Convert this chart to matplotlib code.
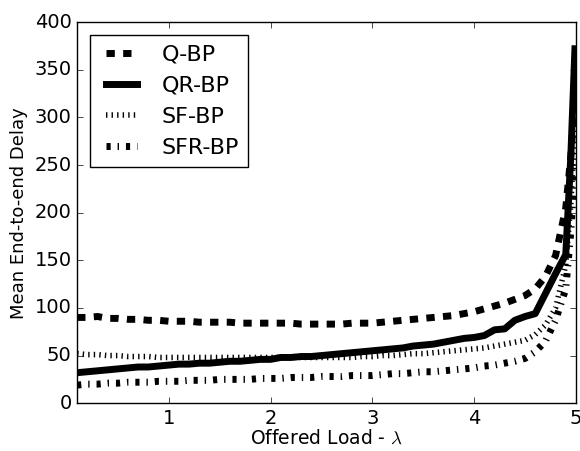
import matplotlib
matplotlib.use("Agg")
import matplotlib.pyplot as plt

# offered load values
load = [0.1, 0.2, 0.3, 0.4, 0.5, 0.6, 0.7, 0.8, 0.9, 1.0,
        1.1, 1.2, 1.3, 1.4, 1.5, 1.6, 1.7, 1.8, 1.9, 2.0,
        2.1, 2.2, 2.3, 2.4, 2.5, 2.6, 2.7, 2.8, 2.9, 3.0,
        3.1, 3.2, 3.3, 3.4, 3.5, 3.6, 3.7, 3.8, 3.9, 4.0,
        4.1, 4.2, 4.3, 4.4, 4.5, 4.6, 4.7, 4.8, 4.9, 4.95, 4.99]

q_bp = [90, 90, 91, 89, 89, 88, 88, 87, 87, 86,
        86, 86, 85, 85, 85, 85, 84, 84, 84, 84,
        84, 84, 83, 83, 83, 83, 83, 84, 84, 84,
        85, 86, 87, 88, 89, 90, 91, 92, 94, 96,
        99, 102, 105, 109, 113, 120, 133, 155, 205, 260, 320]

qr_bp = [32, 33, 34, 35, 36, 37, 38, 38, 39, 40,
         41, 41, 42, 42, 43, 44, 44, 45, 46, 46,
         48, 48, 49, 49, 50, 51, 52, 53, 54, 55,
         56, 57, 58, 60, 61, 62, 64, 66, 68, 69,
         71, 77, 78, 87, 91, 94, 115, 136, 156, 260, 372]

sf_bp = [52, 51, 51, 50, 50, 49, 49, 49, 48, 48,
         48, 48, 48, 48, 48, 48, 48, 48, 48, 48,
         48, 48, 48, 48, 48, 48, 48, 48, 49, 49,
         50, 50, 51, 52, 52, 53, 54, 55, 56, 57,
         58, 60, 62, 64, 66, 72, 82, 100, 145, 210, 290]

sfr_bp = [19, 20, 20, 21, 21, 22, 22, 22, 23, 23,
          23, 24, 24, 24, 25, 25, 25, 25, 26, 26,
          26, 27, 27, 27, 28, 28, 28, 29, 29, 29,
          30, 31, 31, 32, 33, 33, 34, 35, 36, 37,
          39, 40, 42, 44, 47, 54, 65, 87, 120, 180, 250]

plt.style.use("classic")
plt.rcParams["font.family"] = "DejaVu Sans"

fig = plt.figure(figsize=(5.8, 4.51), dpi=100, facecolor="white")
ax = fig.add_axes([0.133, 0.106, 0.860, 0.845])

ax.plot(load, q_bp, color="black", linestyle="--", lw=5, label="Q-BP")
ax.plot(load, qr_bp, color="black", linestyle="-", lw=5, label="QR-BP")
ax.plot(load, sf_bp, color="black", linestyle=":", lw=4, label="SF-BP")
ax.plot(load, sfr_bp, color="black", linestyle="-.", lw=5, label="SFR-BP")

ax.set_xlim(0.1, 5)
ax.set_ylim(0, 400)
ax.set_xticks([1, 2, 3, 4, 5])
ax.set_yticks(range(0, 401, 50))
ax.tick_params(labelsize=14)
ax.set_xlabel("Offered Load - $\\lambda$", fontsize=13.5, labelpad=1)
ax.set_ylabel("Mean End-to-end Delay", fontsize=13)

leg = ax.legend(loc="upper left", fontsize=16, fancybox=False, borderaxespad=0.6)
leg.get_frame().set_edgecolor("black")

fig.savefig("out.png", dpi=100, facecolor="white")
